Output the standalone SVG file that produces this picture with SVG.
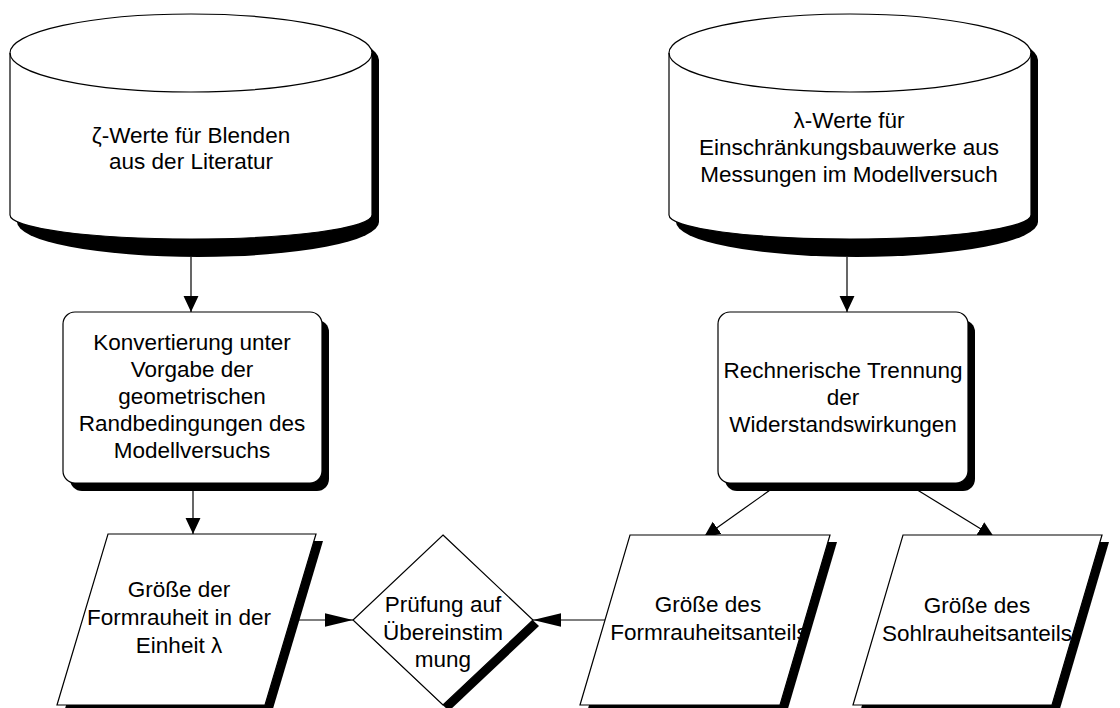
<svg xmlns="http://www.w3.org/2000/svg" width="1120" height="708" viewBox="0 0 1120 708">
<style>
.shape{fill:#fff;stroke:#000;stroke-width:1.2}
.shadow{fill:#000;stroke:none}
.edge{fill:none;stroke:#000;stroke-width:1.2}
.lbl{font-family:"Liberation Sans",Arial,sans-serif;font-size:22.5px;fill:#000;text-anchor:middle}
</style>
<defs>
<marker id="arrS" markerUnits="userSpaceOnUse" markerWidth="16" markerHeight="16" viewBox="0 0 15 14" refX="15" refY="7" orient="auto"><path d="M0,0 L15,7 L0,14 Z" fill="#000"/></marker>
<marker id="arrL" markerUnits="userSpaceOnUse" markerWidth="28" markerHeight="14" viewBox="0 0 27 13" refX="27" refY="6.5" orient="auto"><path d="M0,0 L27,6.5 L0,13 Z" fill="#000"/></marker>
</defs>
<g id="connectors">
<line class="edge" x1="191" y1="257" x2="191" y2="312" marker-end="url(#arrS)"/>
<line class="edge" x1="193" y1="491" x2="193" y2="534" marker-end="url(#arrS)"/>
<line class="edge" x1="847" y1="257" x2="847" y2="312" marker-end="url(#arrS)"/>
<line class="edge" x1="780" y1="483" x2="704" y2="537" marker-end="url(#arrS)"/>
<line class="edge" x1="906" y1="483" x2="994" y2="537" marker-end="url(#arrS)"/>
<line class="edge" x1="296" y1="620" x2="353" y2="620" marker-end="url(#arrL)"/>
<line class="edge" x1="605" y1="620" x2="533" y2="620" marker-end="url(#arrL)"/>
</g>
<g id="cyl-left">
<path class="shadow" d="M17,60 A181,39 0 0 1 379,60 L379,222 A181,35 0 0 1 17,222 Z"/>
<path class="shape" d="M10,53 A181,39 0 0 1 372,53 L372,215 A181,24 0 0 1 10,215 Z"/>
<path class="edge" d="M10,53 A181,39 0 0 0 372,53"/>
<text class="lbl" x="191" y="143">ζ-Werte für Blenden</text>
<text class="lbl" x="191" y="169">aus der Literatur</text>
</g>
<g id="cyl-right">
<path class="shadow" d="M676,60 A181,39 0 0 1 1038,60 L1038,222 A181,35 0 0 1 676,222 Z"/>
<path class="shape" d="M669,53 A181,39 0 0 1 1031,53 L1031,215 A181,24 0 0 1 669,215 Z"/>
<path class="edge" d="M669,53 A181,39 0 0 0 1031,53"/>
<text class="lbl" x="849" y="128">λ-Werte für</text>
<text class="lbl" x="849" y="155">Einschränkungsbauwerke aus</text>
<text class="lbl" x="849" y="182">Messungen im Modellversuch</text>
</g>
<g id="box-left">
<rect class="shadow" x="70" y="320" width="259" height="171" rx="12"/>
<rect class="shape" x="63" y="312" width="259" height="171" rx="12"/>
<text class="lbl" x="192" y="350">Konvertierung unter</text>
<text class="lbl" x="192" y="377">Vorgabe der</text>
<text class="lbl" x="192" y="404">geometrischen</text>
<text class="lbl" x="192" y="431">Randbedingungen des</text>
<text class="lbl" x="192" y="458">Modellversuchs</text>
</g>
<g id="box-right">
<rect class="shadow" x="725" y="320" width="250" height="171" rx="12"/>
<rect class="shape" x="718" y="312" width="250" height="171" rx="12"/>
<text class="lbl" x="843" y="378">Rechnerische Trennung</text>
<text class="lbl" x="843" y="405">der</text>
<text class="lbl" x="843" y="432">Widerstandswirkungen</text>
</g>
<g id="para-left">
<polygon class="shadow" points="115,541 323,541 272,712 64,712"/>
<polygon class="shape" points="108,534 316,534 265,705 57,705"/>
<text class="lbl" x="179" y="597">Größe der</text>
<text class="lbl" x="179" y="625">Formrauheit in der</text>
<text class="lbl" x="179" y="653">Einheit λ</text>
</g>
<g id="diamond">
<polygon class="shadow" points="449,541 539,626 449,711 359,626"/>
<polygon class="shape" points="443,535 533,620 443,705 353,620"/>
<text class="lbl" x="443" y="612">Prüfung auf</text>
<text class="lbl" x="443" y="640">Übereinstim</text>
<text class="lbl" x="443" y="667">mung</text>
</g>
<g id="para-mid">
<polygon class="shadow" points="637,542 837,542 787,712 587,712"/>
<polygon class="shape" points="630,535 830,535 780,705 580,705"/>
<text class="lbl" x="708" y="612">Größe des</text>
<text class="lbl" x="709" y="640">Formrauheitsanteils</text>
</g>
<g id="para-right">
<polygon class="shadow" points="910,542 1109,542 1059,712 860,712"/>
<polygon class="shape" points="903,535 1102,535 1052,705 853,705"/>
<text class="lbl" x="977" y="613">Größe des</text>
<text class="lbl" x="977" y="641">Sohlrauheitsanteils</text>
</g>
</svg>
